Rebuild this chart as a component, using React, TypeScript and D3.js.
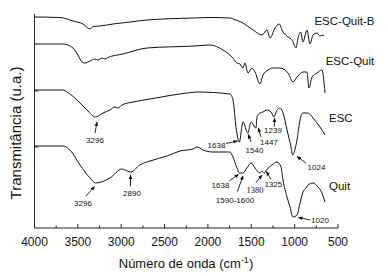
import React from "react";
import * as d3 from "d3";

type Pt = [number, number];

// Wavenumber (cm-1) vs transmittance (a.u., vertically offset spectra)
const escQuitB: Pt[] = [
  [4000, 211], [3706, 210.5], [3556, 207], [3441, 204], [3360, 199], [3325, 201.5],
  [3244, 202], [3095, 204], [2899, 206], [2703, 208], [2161, 210], [1976, 210.5],
  [1746, 210], [1711, 209], [1596, 205], [1480, 198], [1376, 193], [1319, 198],
  [1284, 190], [1226, 200], [1180, 204], [1134, 196], [1076, 191], [1030, 188],
  [984, 180], [961, 190], [930, 196], [904, 186], [858, 198], [823, 184], [788, 193],
  [742, 195], [708, 192], [673, 193], [662, 192],
];

const escQuit: Pt[] = [
  [4000, 184], [3671, 184], [3556, 180], [3499, 173], [3453, 166], [3418, 165],
  [3360, 167], [3302, 169], [3268, 168], [3222, 170], [3187, 169], [3153, 170.5],
  [2980, 174], [2703, 180], [2161, 182], [1976, 183], [1826, 178], [1722, 171],
  [1665, 165], [1630, 164], [1596, 160], [1573, 165], [1538, 155], [1492, 160],
  [1457, 156], [1400, 144], [1365, 153], [1307, 158], [1249, 160], [1169, 160],
  [1076, 155], [1019, 146], [973, 151], [904, 156], [858, 156], [835, 140],
  [800, 151], [742, 155], [685, 158], [650, 135],
];

const esc: Pt[] = [
  [4000, 138], [3671, 138], [3625, 136], [3510, 128], [3395, 118], [3296, 111],
  [3210, 115], [3130, 118], [3072, 121], [3037, 120], [2991, 123], [2864, 126],
  [2668, 129], [2472, 132], [2241, 135], [2126, 136], [1746, 134], [1711, 128],
  [1676, 101], [1638, 86], [1596, 106], [1540, 95], [1503, 106], [1447, 100],
  [1434, 111], [1400, 115], [1365, 116], [1319, 118], [1272, 116], [1239, 111],
  [1203, 118], [1169, 120], [1134, 115], [1088, 98], [1042, 81], [1024, 73],
  [973, 88], [938, 108], [904, 115], [846, 115], [788, 110], [708, 101], [650, 93],
];

const quit: Pt[] = [
  [4000, 82], [3671, 82], [3591, 78], [3475, 63], [3360, 50], [3296, 45],
  [3130, 50], [2991, 59], [2956, 58], [2890, 56], [2786, 63], [2668, 67],
  [2472, 72], [2322, 77], [2172, 79], [2126, 81], [2057, 78], [1942, 76],
  [1746, 76], [1711, 71], [1665, 60], [1638, 55], [1596, 55], [1550, 60],
  [1503, 65], [1457, 60], [1400, 55], [1380, 57], [1350, 55], [1325, 58],
  [1261, 63], [1203, 66], [1157, 61], [1134, 48], [1088, 31], [1053, 21],
  [1020, 11], [973, 13], [938, 25], [904, 36], [869, 40], [846, 43], [788, 45],
  [731, 41], [685, 35], [650, 26],
];

const seriesNames = ["ESC-Quit-B", "ESC-Quit", "ESC", "Quit"];
const seriesData = [escQuitB, escQuit, esc, quit];

const xTicks = [4000, 3500, 3000, 2500, 2000, 1500, 1000, 500];
const xMinorTicks = [3750, 3250, 2750, 2250, 1750, 1250, 750];
const yTicks = [137, 81];

// Annotation labels (peak positions, cm-1)
const annLabels = ["3296", "3296", "2890", "1638", "1540", "1447", "1239", "1024",
  "1638", "1590-1600", "1380", "1325", "1020"];

// Layout for annotations: [tailX, tailY, tipX, tipY, textX, textBaselineY] in px
const annLayout: number[][] = [
  [95, 133, 97, 122, 95, 142.5],
  [86, 196, 94.5, 186.5, 83, 206],
  [130.5, 186.5, 130.5, 175, 132, 195.5],
  [226, 143.5, 237.5, 141, 216.5, 147.5],
  [251, 142, 248.3, 134.5, 254.5, 152.5],
  [261, 137, 258.3, 128, 269, 145],
  [274.5, 126.5, 274.5, 118, 273, 133.3],
  [306, 163, 297, 156.5, 316.5, 170],
  [229.3, 180.7, 238.5, 174.5, 220.5, 187.5],
  [237.3, 191.7, 243, 176, 235, 203.3],
  [256, 182.7, 262, 175, 255, 193.3],
  [270.7, 179, 266.5, 171.5, 273.3, 187.3],
  [310, 220, 298.5, 217.5, 320, 223.3],
];

const W = 388;
const H = 276;
const SANS = "'Liberation Sans', Arial, sans-serif";

export default function App() {
  const x = d3.scaleLinear().domain([4000, 500]).range([34.5, 338]);
  const y = d3.scaleLinear().domain([0, 214]).range([228, 14]);
  const line = d3
    .line<Pt>()
    .x((d) => x(d[0]))
    .y((d) => y(d[1]))
    .curve(d3.curveMonotoneX);

  const labelPos = [
    { x: 344.5, y: 25, anchor: "middle" },
    { x: 350, y: 65, anchor: "middle" },
    { x: 329, y: 121.7, anchor: "start" },
    { x: 329, y: 190, anchor: "start" },
  ];

  return (
    <svg
      width={W}
      height={H}
      viewBox={`0 0 ${W} ${H}`}
      style={{ position: "absolute", left: 0, top: 0, background: "#fff" }}
    >
      <defs>
        <marker id="ah" viewBox="0 0 10 10" refX="9" refY="5" markerWidth="5" markerHeight="5" orient="auto">
          <path d="M0,1 L10,5 L0,9 z" fill="#111" />
        </marker>
      </defs>
      <rect width={W} height={H} fill="#fff" />
      {/* axes */}
      <line x1={x(4000)} x2={x(4000)} y1={y(214)} y2={y(0)} stroke="#222" strokeWidth={1} />
      <line x1={x(4000)} x2={x(500)} y1={y(0)} y2={y(0)} stroke="#222" strokeWidth={1} />
      {xTicks.map((t) => (
        <g key={"xt" + t}>
          <line x1={x(t)} x2={x(t)} y1={y(0)} y2={y(0) - 4} stroke="#222" strokeWidth={1} />
          <text x={x(t)} y={246} fontSize={12} fontFamily={SANS} textAnchor="middle" fill="#111">
            {t}
          </text>
        </g>
      ))}
      {xMinorTicks.map((t) => (
        <line key={"xm" + t} x1={x(t)} x2={x(t)} y1={y(0)} y2={y(0) - 2.5} stroke="#222" strokeWidth={1} />
      ))}
      {yTicks.map((t) => (
        <line key={"yt" + t} x1={x(4000)} x2={x(4000) + 4} y1={y(t)} y2={y(t)} stroke="#222" strokeWidth={1} />
      ))}
      {/* spectra */}
      {seriesData.map((s, i) => (
        <path key={seriesNames[i]} d={line(s) || ""} fill="none" stroke="#111" strokeWidth={1} />
      ))}
      {/* series labels */}
      {seriesNames.map((n, i) => (
        <text
          key={"lab" + n}
          x={labelPos[i].x}
          y={labelPos[i].y}
          fontSize={11.5}
          fontFamily={SANS}
          textAnchor={labelPos[i].anchor as any}
          fill="#111"
        >
          {n}
        </text>
      ))}
      {/* annotations */}
      {annLabels.map((l, i) => {
        const a = annLayout[i];
        const serif = l === "1380";
        return (
          <g key={"ann" + i}>
            <line x1={a[0]} y1={a[1]} x2={a[2]} y2={a[3]} stroke="#111" strokeWidth={0.9} markerEnd="url(#ah)" />
            <text
              x={a[4]}
              y={a[5]}
              fontSize={serif ? 8.5 : 8}
              fontFamily={serif ? "'Liberation Serif', 'Times New Roman', serif" : SANS}
              textAnchor="middle"
              fill="#111"
            >
              {l}
            </text>
          </g>
        );
      })}
      {/* axis titles */}
      <text x={186} y={268.3} fontSize={13} fontFamily={SANS} textAnchor="middle" fill="#111">
        Número de onda (cm
        <tspan fontSize={9} dy={-5}>-1</tspan>
        <tspan dy={5}>)</tspan>
      </text>
      <text
        transform="translate(20.5,133) rotate(-90)"
        fontSize={15}
        fontFamily={SANS}
        textAnchor="middle"
        fill="#111"
      >
        Transmitância (u.a.)
      </text>
    </svg>
  );
}
